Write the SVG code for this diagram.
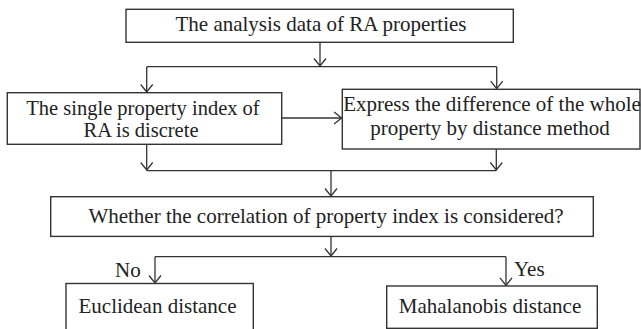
<svg xmlns="http://www.w3.org/2000/svg" width="641" height="329" viewBox="0 0 641 329">
<defs>
<marker id="arr" markerUnits="userSpaceOnUse" markerWidth="16" markerHeight="16" refX="8" refY="8" orient="auto" overflow="visible">
<path d="M0.5,2 L8,8 L0.5,14" fill="none" stroke="#333" stroke-width="1.3"/>
</marker>
<style>
.box{fill:#fff;stroke:#333;stroke-width:1.4}
.t{font-family:"Liberation Serif","Times New Roman",serif;font-size:21px;fill:#222;text-anchor:middle}
.s{font-size:20.5px}
.l{font-family:"Liberation Serif","Times New Roman",serif;font-size:21px;fill:#222}
.c{fill:none;stroke:#333;stroke-width:1.3}
.a{fill:none;stroke:#333;stroke-width:1.3;marker-end:url(#arr)}
</style>
</defs>
<rect width="641" height="329" fill="#fff"/>
<g id="connectors">
<path class="a" d="M320,42.3 V66"/>
<path class="c" d="M146.7,66.7 H496.7"/>
<path class="a" d="M146.7,66.7 V92"/>
<path class="a" d="M496.7,66.7 V88.6"/>
<path class="a" d="M281.7,118 H341.6"/>
<path class="a" d="M146.7,144.3 V170"/>
<path class="a" d="M496.3,149 V170"/>
<path class="c" d="M146.7,170.7 H496.3"/>
<path class="a" d="M331,170.7 V196"/>
<path class="a" d="M331,236.4 V256"/>
<path class="c" d="M155,256.7 H506"/>
<path class="a" d="M155,256.7 V283"/>
<path class="a" d="M506,256.7 V285.4"/>
</g>
<g id="n1">
<rect class="box" x="126" y="9.3" width="387.3" height="33"/>
<text class="t" x="321" y="31">The analysis data of RA properties</text>
</g>
<g id="n2">
<rect class="box" x="7.3" y="92.7" width="274.4" height="51.6"/>
<text class="t s" x="143" y="114.5">The single property index of</text>
<text class="t s" x="141" y="137">RA is discrete</text>
</g>
<g id="n3">
<rect class="box" x="342.3" y="89.3" width="297.7" height="59.7"/>
<text class="t" x="492" y="111">Express the difference of the whole</text>
<text class="t" x="490" y="134.5">property by distance method</text>
</g>
<g id="n4">
<rect class="box" x="50.7" y="196.7" width="542.6" height="39.7"/>
<text class="t" x="326" y="223">Whether the correlation of property index is considered?</text>
</g>
<g id="n5">
<rect class="box" x="66" y="283.5" width="187.3" height="60"/>
<text class="t" x="157.5" y="312.7">Euclidean distance</text>
</g>
<g id="n6">
<rect class="box" x="386.7" y="286" width="210.6" height="42.3"/>
<text class="t" x="490" y="312.7">Mahalanobis distance</text>
</g>
<g id="labels">
<text class="l" x="115" y="276.5">No</text>
<text class="l" x="514" y="275.5">Yes</text>
</g>
</svg>
